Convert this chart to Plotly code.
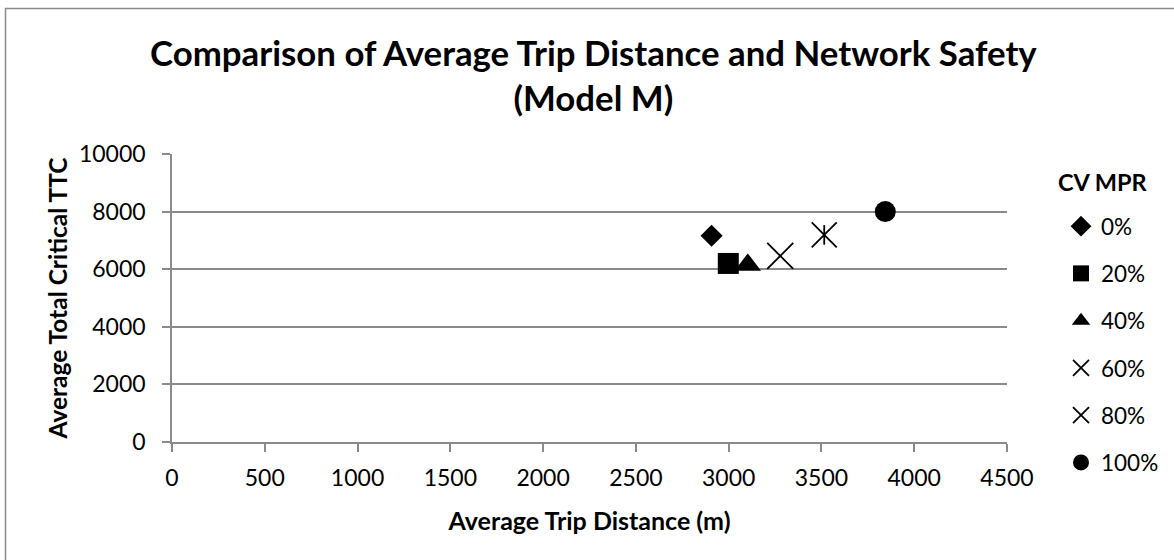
import plotly.graph_objects as go

# Average trip distance (m) and average total critical TTC for each CV market penetration rate
mpr_labels = ["0%", "20%", "40%", "60%", "80%", "100%"]
trip_distance = [2908, 2998, 3103, 3278, 3515, 3844]
critical_ttc = [7160, 6200, 6150, 6460, 7190, 8000]

x_ticks = [0, 500, 1000, 1500, 2000, 2500, 3000, 3500, 4000, 4500]
y_ticks = [0, 2000, 4000, 6000, 8000, 10000]

FONT = "Lato"
GRID = "#8a8a8a"

marker_styles = [
    dict(symbol="diamond", size=17, color="black"),
    dict(symbol="square", size=21, color="black"),
    dict(symbol="triangle-up", size=23, color="black"),
    dict(symbol="x-thin-open", size=26, color="black", line=dict(color="black", width=1.8)),
    dict(symbol="x-thin-open", size=25, color="black", line=dict(color="black", width=1.8)),
    dict(symbol="circle", size=21, color="black"),
]

fig = go.Figure()
for i, (label, xv, yv, mk) in enumerate(zip(mpr_labels, trip_distance, critical_ttc, marker_styles)):
    fig.add_trace(go.Scatter(
        x=[xv], y=[yv], mode="markers", name=label, marker=mk,
        legendgroup=f"g{i}", cliponaxis=False,
    ))
    if label == "80%":
        # vertical stroke completes the six-armed asterisk marker
        fig.add_trace(go.Scatter(
            x=[xv], y=[yv], mode="markers", name=label, showlegend=False,
            legendgroup=f"g{i}", cliponaxis=False,
            marker=dict(symbol="line-ns-open", size=14, color="black",
                        line=dict(color="black", width=1.8)),
        ))

# paper coordinates: x 0..1 spans the plot area (172..1007 px), y 0..1 spans 442..154 px
def px_to_paper_x(px):
    return (px - 172) / 835

def px_to_paper_y(py):
    return (442 - py) / 288

fig.update_layout(
    width=1174, height=560,
    margin=dict(l=172, r=167, t=154, b=118, autoexpand=False),
    paper_bgcolor="white", plot_bgcolor="white",
    font=dict(family=FONT, size=22, color="black"),
    showlegend=True,
    legend=dict(
        font=dict(family=FONT, size=22.5, color="black"),
        traceorder="grouped", tracegroupgap=15,
        x=px_to_paper_x(1061), xanchor="left", y=px_to_paper_y(205), yanchor="top",
        bgcolor="rgba(0,0,0,0)", itemwidth=30, maxheight=500,
    ),
    xaxis=dict(
        range=[0, 4500], tickvals=x_ticks, ticktext=[str(v) for v in x_ticks],
        showgrid=False, zeroline=False,
        showline=True, linecolor=GRID, linewidth=1.5,
        ticks="outside", ticklen=8, tickcolor=GRID, tickwidth=1.5,
        ticklabelstandoff=7,
        title=dict(text="<b>Average Trip Distance (m)</b>", font=dict(size=25), standoff=22),
        tickfont=dict(size=23),
    ),
    yaxis=dict(
        range=[0, 10000], tickvals=y_ticks, ticktext=[str(v) for v in y_ticks],
        showgrid=True, gridcolor=GRID, gridwidth=1.5, zeroline=False,
        showline=True, linecolor=GRID, linewidth=1.5,
        ticks="outside", ticklen=8, tickcolor=GRID, tickwidth=1.5,
        ticklabelstandoff=12,
        title=dict(text="<b>Average Total Critical TTC</b>", font=dict(size=24.5), standoff=4),
        tickfont=dict(size=23),
    ),
    annotations=[
        dict(
            text="<b>Comparison of Average Trip Distance and Network Safety<br>(Model M)</b>",
            font=dict(family=FONT, size=34.8, color="black"),
            xref="paper", yref="paper",
            x=px_to_paper_x(593), y=px_to_paper_y(75),
            xanchor="center", yanchor="middle", showarrow=False, align="center",
        ),
        dict(
            text="<b>CV MPR</b>",
            font=dict(family=FONT, size=23.5, color="black"),
            xref="paper", yref="paper",
            x=px_to_paper_x(1102), y=px_to_paper_y(182),
            xanchor="center", yanchor="middle", showarrow=False,
        ),
    ],
    shapes=[dict(
        type="rect", xref="paper", yref="paper",
        x0=px_to_paper_x(5.5), x1=px_to_paper_x(1190),
        y0=px_to_paper_y(580), y1=px_to_paper_y(8.5),
        line=dict(color=GRID, width=1.5), fillcolor="rgba(0,0,0,0)", layer="below",
    )],
)

fig.write_html("out.html")
